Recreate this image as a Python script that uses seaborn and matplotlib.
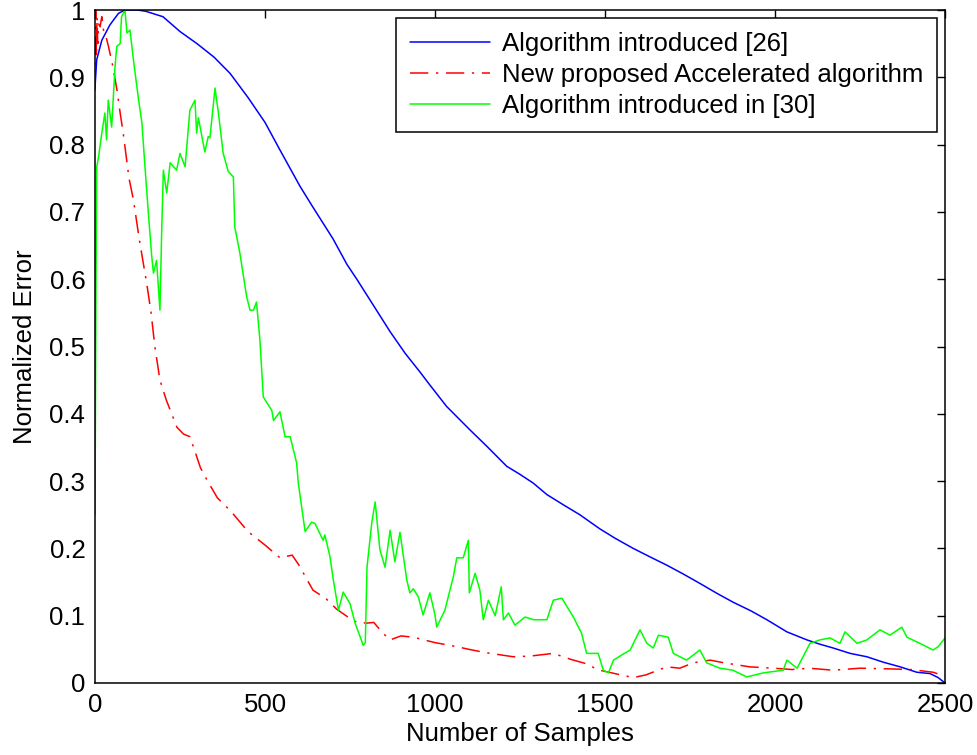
import matplotlib
matplotlib.use("Agg")
import matplotlib.pyplot as plt
import seaborn as sns
import numpy as np

# ---- data ----
blue_x = [0, 5, 20, 44, 69, 88, 100, 125, 150, 200, 250, 300, 350, 397, 450, 500, 544, 603, 641, 700,
          741, 770, 809, 868, 912, 956, 980, 1034, 1103, 1152, 1211, 1250, 1289, 1329, 1380, 1426, 1485,
          1530, 1583, 1630, 1682, 1730, 1779, 1830, 1877, 1930, 1976, 2035, 2094, 2130, 2171, 2221,
          2270, 2318, 2368, 2417, 2456, 2480, 2500]
blue_y = [0.885, 0.926, 0.955, 0.978, 0.995, 1.0, 1.0, 1.0, 0.998, 0.99, 0.968, 0.95, 0.93, 0.906,
          0.87, 0.833, 0.792, 0.738, 0.707, 0.66, 0.622, 0.6, 0.569, 0.522, 0.49, 0.462, 0.446, 0.411,
          0.376, 0.352, 0.322, 0.31, 0.297, 0.28, 0.264, 0.25, 0.229, 0.215, 0.2, 0.188, 0.175,
          0.162, 0.148, 0.133, 0.12, 0.107, 0.094, 0.076, 0.064, 0.058, 0.052, 0.044, 0.039, 0.031,
          0.024, 0.016, 0.014, 0.008, 0.0]

red_x = [0, 2, 4, 6, 8, 10, 15, 20, 25, 30, 40, 53, 65, 74, 83, 100, 113, 130, 152, 165, 176, 191,
         210, 241, 260, 279, 290, 310, 329, 360, 400, 450, 500, 544, 580, 600, 641, 680, 710, 741,
         770, 800, 820, 845, 868, 900, 936, 1000, 1064, 1100, 1150, 1230, 1280, 1348, 1400, 1450,
         1476, 1520, 1583, 1620, 1682, 1720, 1760, 1809, 1850, 1926, 1995, 2050, 2100, 2171, 2250,
         2338, 2400, 2465, 2500]
red_y = [0.88, 1.0, 0.93, 0.99, 0.95, 0.98, 0.975, 0.99, 0.97, 0.965, 0.945, 0.915, 0.88, 0.847,
         0.817, 0.75, 0.718, 0.66, 0.594, 0.55, 0.5, 0.45, 0.42, 0.38, 0.37, 0.366, 0.35, 0.32, 0.302,
         0.275, 0.255, 0.225, 0.205, 0.186, 0.19, 0.175, 0.138, 0.125, 0.11, 0.099, 0.09, 0.089,
         0.09, 0.075, 0.064, 0.07, 0.068, 0.06, 0.054, 0.05, 0.045, 0.039, 0.04, 0.044, 0.035, 0.028,
         0.02, 0.015, 0.008, 0.012, 0.024, 0.022, 0.03, 0.034, 0.03, 0.024, 0.022, 0.02, 0.022,
         0.019, 0.022, 0.021, 0.02, 0.016, 0.01]

green_x = [0, 3, 5, 10, 20, 29, 34, 39, 49, 59, 64, 74, 78, 88, 94, 103, 113, 127, 138, 147, 157,
           167, 172, 181, 191, 196, 201, 211, 221, 240, 250, 265, 279, 294, 299, 304, 323, 333, 338,
           353, 363, 377, 392, 407, 411, 426, 446, 456, 466, 475, 485, 495, 520, 525, 544, 559, 574,
           593, 598, 618, 637, 647, 671, 676, 691, 701, 716, 730, 750, 765, 789, 795, 800, 814, 824,
           838, 853, 868, 882, 897, 917, 926, 936, 951, 965, 985, 1000, 1005, 1029, 1054, 1064,
           1083, 1098, 1101, 1118, 1132, 1142, 1157, 1177, 1195, 1201, 1216, 1235, 1265, 1290,
           1329, 1348, 1373, 1407, 1431, 1446, 1480, 1495, 1510, 1525, 1544, 1574, 1603, 1623,
           1642, 1657, 1686, 1701, 1740, 1779, 1799, 1838, 1876, 1917, 1965, 2024, 2035, 2065,
           2103, 2132, 2162, 2191, 2206, 2241, 2270, 2309, 2338, 2373, 2388, 2426, 2465, 2480, 2500]
green_y = [0.25, 0.6, 0.767, 0.78, 0.817, 0.847, 0.807, 0.866, 0.826, 0.916, 0.946, 0.95, 0.99,
           1.0, 0.966, 0.97, 0.926, 0.871, 0.832, 0.767, 0.698, 0.633, 0.609, 0.628, 0.554, 0.668,
           0.762, 0.728, 0.773, 0.762, 0.787, 0.767, 0.851, 0.866, 0.817, 0.84, 0.789, 0.812, 0.81,
           0.884, 0.847, 0.787, 0.76, 0.752, 0.678, 0.639, 0.574, 0.554, 0.554, 0.566, 0.51, 0.425,
           0.405, 0.39, 0.403, 0.366, 0.366, 0.327, 0.297, 0.225, 0.239, 0.237, 0.212, 0.22, 0.188,
           0.153, 0.108, 0.135, 0.118, 0.089, 0.056, 0.06, 0.172, 0.238, 0.269, 0.198, 0.172, 0.227,
           0.18, 0.224, 0.153, 0.134, 0.14, 0.128, 0.101, 0.134, 0.101, 0.083, 0.108, 0.158, 0.186,
           0.186, 0.212, 0.134, 0.163, 0.138, 0.094, 0.123, 0.1, 0.143, 0.094, 0.104, 0.086, 0.098,
           0.094, 0.094, 0.123, 0.126, 0.098, 0.074, 0.044, 0.044, 0.019, 0.015, 0.034, 0.04, 0.049,
           0.079, 0.059, 0.052, 0.071, 0.068, 0.044, 0.034, 0.049, 0.03, 0.022, 0.019, 0.009, 0.015,
           0.019, 0.034, 0.022, 0.059, 0.064, 0.067, 0.059, 0.076, 0.059, 0.064, 0.079, 0.071, 0.083,
           0.068, 0.059, 0.049, 0.054, 0.067]

labels = ["Algorithm introduced [26]", "New proposed Accelerated algorithm", "Algorithm introduced in [30]"]
x_ticks = [0, 500, 1000, 1500, 2000, 2500]
y_ticks = [0, 0.1, 0.2, 0.3, 0.4, 0.5, 0.6, 0.7, 0.8, 0.9, 1]
y_tick_labels = ["0", "0.1", "0.2", "0.3", "0.4", "0.5", "0.6", "0.7", "0.8", "0.9", "1"]

# ---- style ----
sns.set_style("white")
plt.rcParams["font.family"] = ["Liberation Sans", "DejaVu Sans"]
plt.rcParams["text.color"] = "black"
plt.rcParams["axes.labelcolor"] = "black"
plt.rcParams["xtick.color"] = "black"
plt.rcParams["ytick.color"] = "black"
FS = 18.5

fig = plt.figure(figsize=(9.77, 7.55), dpi=100)
ax = fig.add_axes([95 / 977, 72 / 755, 850 / 977, 673 / 755])

sns.lineplot(x=blue_x, y=blue_y, ax=ax, color="#0000ff", lw=1.1, label=labels[0],
             sort=False, estimator=None)
sns.lineplot(x=red_x, y=red_y, ax=ax, color="#ff0000", lw=1.1, label=labels[1],
             sort=False, estimator=None, linestyle=(0, (12, 5, 1.5, 5)))
sns.lineplot(x=green_x, y=green_y, ax=ax, color="#00ff00", lw=1.1, label=labels[2],
             sort=False, estimator=None)

ax.set_xlim(0, 2500)
ax.set_ylim(0, 1)
ax.set_xticks(x_ticks)
ax.set_xticklabels([str(t) for t in x_ticks])
ax.set_yticks(y_ticks)
ax.set_yticklabels(y_tick_labels)
ax.tick_params(direction="in", length=6, width=1, colors="black", labelsize=FS,
               top=True, right=True, pad=7)
for s in ax.spines.values():
    s.set_visible(True)
    s.set_color("black")
    s.set_linewidth(1.1)

ax.set_xlabel("Number of Samples", fontsize=FS, labelpad=4, color="black")
ax.set_ylabel("Normalized Error", fontsize=FS, labelpad=9, color="black")

leg = ax.legend(loc="upper right", fontsize=FS, frameon=True, fancybox=False,
                edgecolor="black", framealpha=1, handlelength=3.1, handletextpad=0.47,
                labelspacing=0.27, borderaxespad=0.3, borderpad=0.55)
leg.get_frame().set_linewidth(1.1)
for t in leg.get_texts():
    t.set_color("black")

fig.savefig("out.png", dpi=100)
